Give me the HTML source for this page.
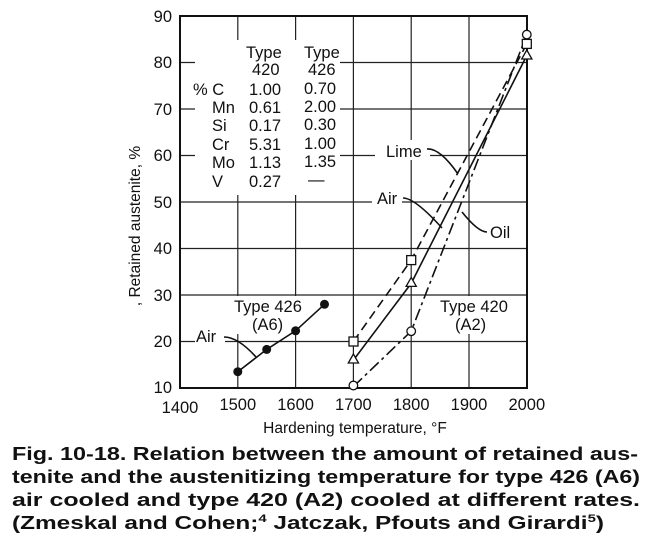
<!DOCTYPE html>
<html><head><style>
body{margin:0;background:#fff;}
svg text{font-family:"Liberation Sans",Arial,sans-serif;fill:#111;}
</style></head><body>
<div style="position:relative;width:655px;height:548px;overflow:hidden;">
<svg width="655" height="548" style="position:absolute;left:0;top:0">
<g stroke="#222" stroke-width="1.2" fill="none">
<path d="M237.8 16V388M295.6 16V388M353.4 16V388M411.2 16V388M469 16V388"/>
<path d="M180 62.5H527M180 109H527M180 155.5H527M180 202H527M180 248.5H527M180 295H527M180 341.5H527"/>
</g>
<rect x="195" y="40" width="145" height="155" fill="#fff"/>
<rect x="375" y="140" width="55" height="20" fill="#fff"/>
<rect x="372" y="188" width="30" height="20" fill="#fff"/>
<rect x="487" y="222" width="30" height="20" fill="#fff"/>
<rect x="437" y="296" width="70" height="38" fill="#fff"/>
<rect x="235" y="296" width="78" height="38" fill="#fff"/>
<rect x="195" y="327" width="30" height="20" fill="#fff"/>
<rect x="180" y="16" width="347" height="372" fill="none" stroke="#111" stroke-width="2"/>
<g stroke="#111" stroke-width="1.6" fill="none">
<polyline points="237.8,371.7 266.7,349.4 295.6,330.8 324.5,304.3"/>
<polyline points="353.4,341.5 411.2,260.1 526.8,43.9" stroke-dasharray="9,5"/>
<polyline points="353.4,360.1 411.2,283.4 526.8,55.5"/>
<polyline points="353.4,386.6 411.2,331.2 526.8,34.6" stroke-dasharray="12,4,3,4"/>
<path d="M427 149 Q440 148 458 174"/>
<path d="M403 198 Q415 198 442 228"/>
<path d="M487 232 Q478 232 462 212"/>
<path d="M224 337 Q238 337 256 357"/>
</g>
<g fill="#111">
<circle cx="237.8" cy="371.7" r="4.5"/><circle cx="266.7" cy="349.4" r="4.5"/><circle cx="295.6" cy="330.8" r="4.5"/><circle cx="324.5" cy="304.3" r="4.5"/>
</g>
<g fill="#fff" stroke="#111" stroke-width="1.3">
<rect x="349" y="337" width="9" height="9"/><rect x="406.7" y="255.6" width="9" height="9"/><rect x="522.3" y="39.4" width="9" height="9"/>
<polygon points="353.4,354 358.5,363 348.3,363"/><polygon points="411.2,277.4 416.3,286.4 406.1,286.4"/><polygon points="526.8,50 531.9,59 521.7,59"/>
<circle cx="353.4" cy="385.5" r="4.3"/><circle cx="411.2" cy="331.2" r="4.3"/><circle cx="526.8" cy="34.6" r="4.3"/>
</g>
<g font-size="16.5" text-anchor="end">
<text x="172" y="22">90</text><text x="172" y="68">80</text><text x="172" y="115">70</text><text x="172" y="161">60</text><text x="172" y="208">50</text><text x="172" y="254">40</text><text x="172" y="301">30</text><text x="172" y="347">20</text><text x="172" y="393">10</text>
</g>
<g font-size="16.5" text-anchor="middle">
<text x="180" y="413">1400</text><text x="237.8" y="410">1500</text><text x="295.6" y="410">1600</text><text x="353.4" y="410">1700</text><text x="411.2" y="410">1800</text><text x="469" y="410">1900</text><text x="526.8" y="410">2000</text>
</g>
<text x="355" y="433" font-size="15.5" text-anchor="middle">Hardening temperature, °F</text>
<text transform="translate(140,226) rotate(-90)" font-size="15.5" text-anchor="middle">, Retained austenite, %</text>
<g font-size="16.5">
<text x="246" y="58">Type</text><text x="304" y="58">Type</text>
<text x="252" y="75">420</text><text x="308" y="75">426</text>
<text x="193" y="95">% C</text><text x="249" y="95">1.00</text><text x="304" y="94">0.70</text>
<text x="212" y="113">Mn</text><text x="249" y="113">0.61</text><text x="304" y="112">2.00</text>
<text x="212" y="131">Si</text><text x="249" y="131">0.17</text><text x="304" y="130">0.30</text>
<text x="212" y="150">Cr</text><text x="249" y="150">5.31</text><text x="304" y="149">1.00</text>
<text x="212" y="168">Mo</text><text x="249" y="168">1.13</text><text x="304" y="167">1.35</text>
<text x="212" y="187">V</text><text x="249" y="187">0.27</text><text x="308" y="185">—</text>
<text x="386" y="157">Lime</text>
<text x="377" y="204">Air</text>
<text x="490" y="238">Oil</text>
<text x="440" y="312">Type 420</text><text x="455" y="330">(A2)</text>
<text x="234" y="312">Type 426</text><text x="252" y="330">(A6)</text>
<text x="196" y="342">Air</text>
</g>
<g font-size="18" font-weight="bold">
<text x="12" y="460" textLength="626" lengthAdjust="spacingAndGlyphs">Fig. 10-18. Relation between the amount of retained aus-</text>
<text x="12" y="483" textLength="628" lengthAdjust="spacingAndGlyphs">tenite and the austenitizing temperature for type 426 (A6)</text>
<text x="12" y="506" textLength="628" lengthAdjust="spacingAndGlyphs">air cooled and type 420 (A2) cooled at different rates.</text>
<text x="12" y="529" textLength="592" lengthAdjust="spacingAndGlyphs">(Zmeskal and Cohen;<tspan font-size="11" dy="-7">4</tspan><tspan dy="7"> Jatczak, Pfouts and Girardi</tspan><tspan font-size="11" dy="-7">5</tspan><tspan dy="7">)</tspan></text>
</g>
</svg>
</div>
</body></html>
